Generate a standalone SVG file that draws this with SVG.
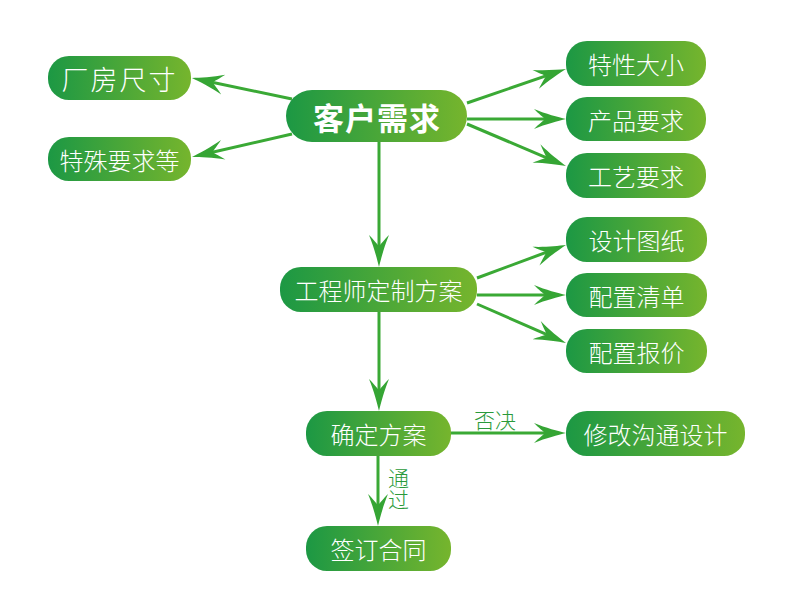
<svg xmlns="http://www.w3.org/2000/svg" width="790" height="602" viewBox="0 0 790 602">
<defs>
<linearGradient id="g" x1="0" y1="0" x2="1" y2="0">
<stop offset="0" stop-color="#1c9844"/>
<stop offset="1" stop-color="#76b52d"/>
</linearGradient>
<linearGradient id="bl" x1="0" y1="0" x2="1" y2="0">
<stop offset="0" stop-color="#278a3e"/>
<stop offset="1" stop-color="#62a93a"/>
</linearGradient>
<marker id="ah" markerUnits="userSpaceOnUse" viewBox="-45 -12 48 24" markerWidth="48" markerHeight="24" refX="-12" refY="0" orient="auto">
<path d="M0,0 C-8,-2 -20,-5 -32,-10 C-27,-5 -23,-2 -21,0 C-23,2 -27,5 -32,10 C-20,5 -8,2 0,0 Z" fill="#35a534"/>
</marker>
<style>
.c{stroke:#3aa935;stroke-width:3;fill:none;marker-end:url(#ah)}
.n{fill:url(#g)}
.t{fill:#ffffff;font-family:"Noto Sans CJK SC","Noto Sans",sans-serif;font-size:24px;font-weight:300;text-anchor:middle;dominant-baseline:central}
.tb{font-size:31px;font-weight:bold;letter-spacing:1px}
.lb{fill:#2a9a3a;font-family:"Noto Sans CJK SC","Noto Sans",sans-serif;font-size:21px;font-weight:300;text-anchor:middle;dominant-baseline:central}
</style>
</defs>
<rect x="0" y="0" width="790" height="602" fill="#ffffff"/>
<g id="connectors">
<line class="c" x1="292" y1="99" x2="203.7" y2="80.5"/>
<line class="c" x1="292" y1="134" x2="203.7" y2="154.3"/>
<line class="c" x1="467" y1="103" x2="554.6" y2="72.9"/>
<line class="c" x1="467" y1="119" x2="554" y2="119"/>
<line class="c" x1="467" y1="124" x2="554.9" y2="161.3"/>
<line class="c" x1="379" y1="142" x2="379" y2="255"/>
<line class="c" x1="477" y1="278" x2="554.7" y2="249.2"/>
<line class="c" x1="477" y1="295" x2="554" y2="295"/>
<line class="c" x1="477" y1="304" x2="555" y2="338.2"/>
<line class="c" x1="379" y1="312" x2="379" y2="399"/>
<line class="c" x1="451" y1="433" x2="554" y2="433"/>
<line class="c" x1="378" y1="456" x2="378" y2="514"/>
<text class="lb" x="495" y="419">否决</text>
<text class="lb" x="398.5" y="489" style="writing-mode:vertical-rl">通过</text>
</g>
<g id="n1"><rect class="n" x="286" y="90" width="181" height="52" rx="26"/><text class="t tb" x="377" y="116">客户需求</text></g>
<g id="n2"><rect class="n" x="48" y="56" width="143" height="44" rx="21"/><text class="t" x="119.5" y="78" style="font-size:27px;letter-spacing:2px">厂房尺寸</text></g>
<g id="n3"><rect class="n" x="48" y="137" width="143" height="44" rx="21"/><text class="t" x="119.5" y="159">特殊要求等</text></g>
<g id="n4"><rect class="n" x="566" y="41" width="140" height="45" rx="21"/><text class="t" x="636" y="63.5">特性大小</text></g>
<g id="n5"><rect class="n" x="566" y="97" width="140" height="44" rx="21"/><text class="t" x="636" y="119">产品要求</text></g>
<g id="n6"><rect class="n" x="566" y="153" width="140" height="45" rx="21"/><text class="t" x="636" y="175.5">工艺要求</text></g>
<g id="n7"><rect class="n" x="280" y="267" width="197" height="45" rx="21"/><text class="t" x="378.5" y="289.5">工程师定制方案</text></g>
<g id="n8"><rect class="n" x="566" y="217" width="141" height="45" rx="21"/><text class="t" x="636.5" y="239.5">设计图纸</text></g>
<g id="n9"><rect class="n" x="566" y="273" width="141" height="44" rx="21"/><text class="t" x="636.5" y="295">配置清单</text></g>
<g id="n10"><rect class="n" x="566" y="329" width="141" height="44" rx="21"/><text class="t" x="636.5" y="351">配置报价</text></g>
<g id="n11"><rect class="n" x="306" y="411" width="145" height="45" rx="21"/><text class="t" x="378.5" y="433.5">确定方案</text></g>
<g id="n12"><rect class="n" x="566" y="411" width="179" height="45" rx="21"/><text class="t" x="655.5" y="433.5">修改沟通设计</text></g>
<g id="n13"><rect class="n" x="306" y="526" width="145" height="45" rx="21"/><text class="t" x="378.5" y="548.5">签订合同</text></g>
<line x1="0" y1="600.5" x2="790" y2="600.5" stroke="url(#bl)" stroke-width="2"/>
</svg>
